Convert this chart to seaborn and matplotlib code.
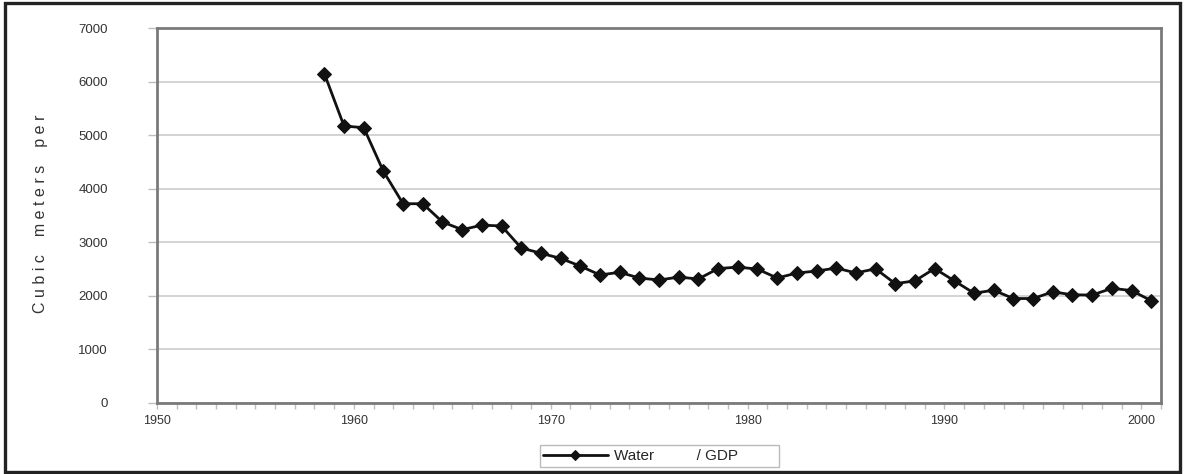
import numpy as np
import pandas as pd
import seaborn as sns
import matplotlib.pyplot as plt
from matplotlib.patches import Rectangle
from matplotlib.ticker import MultipleLocator

# water use per unit GDP (one value per year)
years = list(range(1958, 2001))
water_gdp = [6150, 5170, 5140, 4325, 3720, 3720, 3380, 3235, 3320, 3305,
             2895, 2795, 2700, 2556, 2390, 2440, 2333, 2296, 2350, 2315,
             2509, 2537, 2500, 2333, 2426, 2463, 2519, 2428, 2505, 2228,
             2280, 2510, 2280, 2050, 2105, 1950, 1950, 2075, 2020, 2015,
             2140, 2100, 1910]

df = pd.DataFrame({'Year': years, 'Value': water_gdp})
# excel category axis: each point sits in the middle of its year
df['Pos'] = df['Year'] + 0.5

sns.set_style('white')
plt.rcParams['font.family'] = ['Liberation Sans', 'DejaVu Sans']

fig = plt.figure(figsize=(11.84, 4.74), dpi=100)
ax = fig.add_axes([0.1326, 0.1498, 0.848, 0.7911])

sns.lineplot(data=df, x='Pos', y='Value', ax=ax, color='#111111', linewidth=2.0,
             marker='D', markersize=7, markeredgecolor='#111111',
             label='Water          / GDP         ')

ax.set_xlim(1950, 2001)
ax.set_ylim(0, 7000)
ax.xaxis.set_major_locator(MultipleLocator(10))
ax.xaxis.set_minor_locator(MultipleLocator(1))
ax.yaxis.set_major_locator(MultipleLocator(1000))
ax.grid(axis='y', color='#c8c8c8', linewidth=1.1)
ax.set_axisbelow(True)

for s in ax.spines.values():
    s.set_color('#7a7a7a')
    s.set_linewidth(2)

ax.tick_params(axis='y', which='major', left=True, length=6.5, width=1,
               color='#bdbdbd', pad=29, labelsize=9.5, labelcolor='#333333')
ax.tick_params(axis='x', which='both', bottom=True, length=4, width=1,
               color='#bdbdbd', direction='out', pad=5, labelsize=9,
               labelcolor='#333333')
ax.set_xlabel('')
ax.set_ylabel('')

fig.text(0.034, 0.548, 'C u b i c    m e t e r s    p e r', rotation=90,
         ha='center', va='center', fontsize=11.5, color='#333333')

leg = ax.legend(loc='center', bbox_to_anchor=(0.557, 0.038),
                bbox_transform=fig.transFigure, frameon=True, fancybox=False,
                fontsize=11, handlelength=4.2, handletextpad=0.4, borderpad=0.25,
                edgecolor='#aaaaaa')
leg.get_frame().set_linewidth(1)
for h in leg.get_lines():
    h.set_markersize(5.5)

# outer frame of the whole chart
fig.patches.append(Rectangle((0.004, 0.005), 0.993, 0.988, transform=fig.transFigure,
                             fill=False, edgecolor='#222222', linewidth=2.4))

fig.savefig('out.png', dpi=100)
